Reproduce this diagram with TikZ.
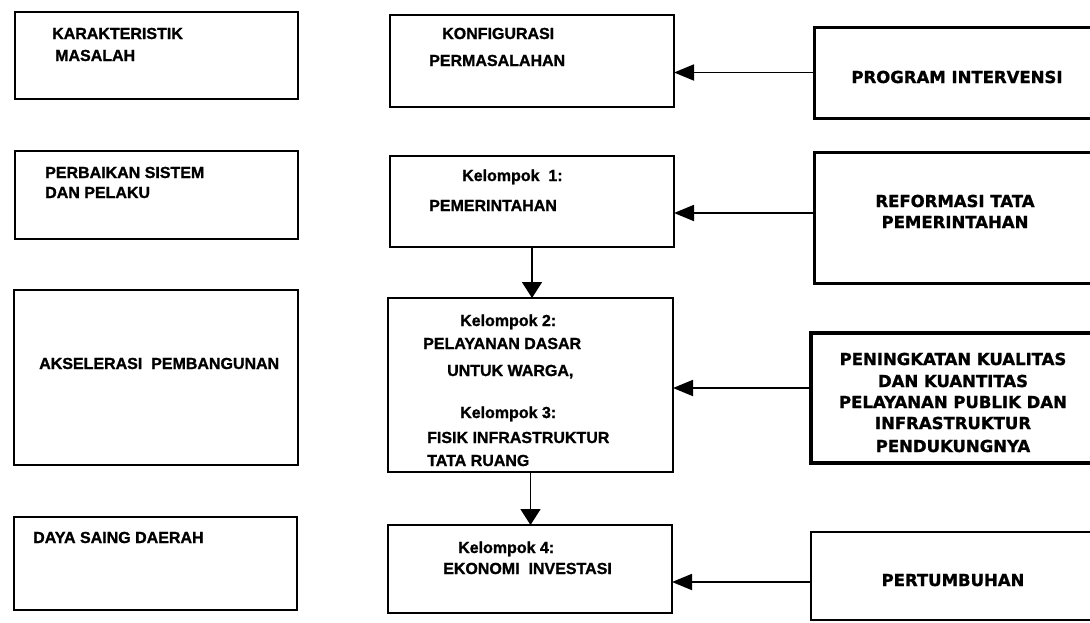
\documentclass[tikz,border=0pt]{standalone}
\usepackage{fontspec}
\newfontfamily\lfont{Liberation Sans}[BoldFeatures={FakeBold=1.2}]
\newfontfamily\rfont{DejaVu Sans}[BoldFeatures={FakeBold=1.2}]
\usetikzlibrary{arrows.meta}
\begin{document}
\begin{tikzpicture}[x=1pt,y=-1pt,
  box/.style={draw, line width=1.6pt, inner sep=0pt, outer sep=0pt},
  rbox/.style={box, line width=3pt},
  lt/.style={anchor=base west, inner sep=0pt, font=\lfont\bfseries\fontsize{16}{19}\selectfont},
  rt/.style={anchor=base, inner sep=0pt, font=\rfont\bfseries\fontsize{16.5}{20}\selectfont},
  harr/.style={line width=1.8pt, -{Triangle[length=20pt,width=16pt]}},
  varr/.style={line width=1.6pt, -{Triangle[length=16pt,width=20pt]}}]
\useasboundingbox (0,0) rectangle (1090,622);
\fill[white] (0,0) rectangle (1090,622);
\clip (0,0) rectangle (1090,622);

% left column
\node[box, minimum width=283pt, minimum height=87pt] (L1) at (156.5,55.5) {};
\node[box, minimum width=283pt, minimum height=88pt] (L2) at (156.5,195) {};
\node[box, minimum width=284pt, minimum height=175pt] (L3) at (156,377.5) {};
\node[box, minimum width=283pt, minimum height=93pt] (L4) at (155.5,563.5) {};

% middle column
\node[box, minimum width=284pt, minimum height=92pt] (M1) at (532,61) {};
\node[box, minimum width=284pt, minimum height=91pt] (M2) at (532,201.5) {};
\node[box, minimum width=285pt, minimum height=174pt] (M3) at (530.5,385) {};
\node[box, minimum width=284pt, minimum height=88pt] (M4) at (530,569) {};

% right column
\node[rbox, minimum width=286pt, minimum height=91pt] (R1) at (957,72.5) {};
\node[rbox, minimum width=286pt, minimum height=131pt] (R2) at (957,217.5) {};
\node[rbox, line width=3.5pt, minimum width=289pt, minimum height=130pt] (R3) at (955.5,398) {};
\node[box, minimum width=289pt, minimum height=88pt] (R4) at (955.5,576) {};

% left texts
\node[lt] (l1a) at (52,39) {KARAKTERISTIK};
\node[lt] (l1b) at (55,61) {MASALAH};
\node[lt] (l2a) at (45,178) {PERBAIKAN SISTEM};
\node[lt] (l2b) at (45,198) {DAN PELAKU};
\node[lt] (l3a) at (39,369) {AKSELERASI\ \ PEMBANGUNAN};
\node[lt] (l4a) at (33,543) {DAYA SAING DAERAH};

% middle texts
\node[lt] (m1a) at (442,39) {KONFIGURASI};
\node[lt] (m1b) at (429,66) {PERMASALAHAN};
\node[lt] (m2a) at (462,181) {Kelompok\ \ 1:};
\node[lt] (m2b) at (429,211) {PEMERINTAHAN};
\node[lt] (m3a) at (460,326) {Kelompok 2:};
\node[lt] (m3b) at (423,349) {PELAYANAN DASAR};
\node[lt] (m3c) at (447,376) {UNTUK WARGA,};
\node[lt] (m3d) at (460,418) {Kelompok 3:};
\node[lt] (m3e) at (427,443) {FISIK INFRASTRUKTUR};
\node[lt] (m3f) at (427,466) {TATA RUANG};
\node[lt] (m4a) at (458,553) {Kelompok 4:};
\node[lt] (m4b) at (443,574) {EKONOMI\ \ INVESTASI};

% right texts
\node[rt] (r1a) at (957,83) {PROGRAM INTERVENSI};
\node[rt] (r2a) at (955,207) {REFORMASI TATA};
\node[rt] (r2b) at (955,228) {PEMERINTAHAN};
\node[rt] (r3a) at (953,365) {PENINGKATAN KUALITAS};
\node[rt] (r3b) at (953,387) {DAN KUANTITAS};
\node[rt] (r3c) at (953,408) {PELAYANAN PUBLIK DAN};
\node[rt] (r3d) at (953,429) {INFRASTRUKTUR};
\node[rt] (r3e) at (953,452) {PENDUKUNGNYA};
\node[rt] (r4a) at (953,586) {PERTUMBUHAN};

% connectors
\coordinate (a1) at (R1.west);
\coordinate (a2) at ([yshift=4.5pt]R2.west);
\coordinate (a3) at ([yshift=10pt]R3.west);
\coordinate (a4) at ([yshift=-6pt]R4.west);
\draw[harr] (a1) -- (a1 -| M1.east);
\draw[harr] (a2) -- (a2 -| M2.east);
\draw[harr] (a3) -- (a3 -| M3.east);
\draw[harr] (a4) -- (a4 -| M4.east);
\draw[varr] (M2.south) -- (M2.south |- M3.north);
\draw[varr] (M3.south) -- (M3.south |- M4.north);
\end{tikzpicture}
\end{document}
